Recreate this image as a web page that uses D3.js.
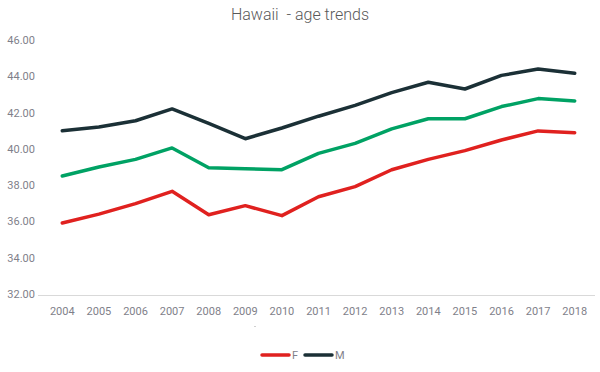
<!DOCTYPE html>
<html>
<head>
<meta charset="utf-8">
<script src="https://cdnjs.cloudflare.com/ajax/libs/d3/7.8.5/d3.min.js"></script>
<style>
  body { margin: 0; background: #fff; }
  svg { font-family: Roboto, "Open Sans", sans-serif; }
</style>
</head>
<body>
<svg id="chart" width="600" height="372"></svg>
<script>
// data
var years = ["2004","2005","2006","2007","2008","2009","2010","2011","2012","2013","2014","2015","2016","2017","2018"];
var maleAge = [41.0, 41.2, 41.55, 42.2, 41.4, 40.56, 41.15, 41.8, 42.4, 43.1, 43.67, 43.3, 44.05, 44.4, 44.17];
var totalAge = [38.5, 39.0, 39.42, 40.05, 38.96, 38.9, 38.85, 39.75, 40.3, 41.1, 41.66, 41.66, 42.33, 42.77, 42.64];
var femaleAge = [35.91, 36.4, 36.98, 37.66, 36.37, 36.87, 36.32, 37.36, 37.92, 38.85, 39.42, 39.9, 40.49, 40.99, 40.89];
var yTicks = [32, 34, 36, 38, 40, 42, 44, 46];

var series = [
  { name: "Total", values: totalAge, color: "#00a264", legend: false },
  { name: "F", values: femaleAge, color: "#e0211f", legend: true },
  { name: "M", values: maleAge, color: "#1b3036", legend: true }
];

var svg = d3.select("#chart");

var x = d3.scaleBand().domain(years).range([44, 593]);
var y = d3.scaleLinear().domain([32, 46]).range([294, 40]);

// title (keeps the double space)
svg.append("text")
  .attr("x", 300).attr("y", 20)
  .attr("text-anchor", "middle")
  .style("white-space", "pre")
  .style("font-size", "16px")
  .style("font-weight", 300)
  .style("fill", "#595959")
  .text("Hawaii  - age trends");

// y labels, no gridlines
var yAxis = d3.axisLeft(y).tickValues(yTicks).tickFormat(d3.format(".2f")).tickSize(0);
svg.append("g")
  .attr("transform", "translate(36,0)")
  .call(yAxis)
  .call(function(g){ g.select(".domain").remove(); })
  .selectAll("text")
    .attr("x", -1)
    .attr("text-anchor", "end")
    .style("font-size", "11px")
    .style("font-family", "Roboto, sans-serif")
    .style("fill", "#7f7f8a");

// x axis
var xAxis = d3.axisBottom(x).tickSize(0);
var gx = svg.append("g")
  .attr("transform", "translate(0,295)")
  .call(xAxis);
gx.select(".domain").remove();
gx.selectAll("text")
  .attr("dy", "1.5em")
  .style("font-size", "11px")
  .style("font-family", "Roboto, sans-serif")
  .style("fill", "#7f7f8a");
svg.append("line")
  .attr("x1", 38).attr("x2", 595)
  .attr("y1", 295.5).attr("y2", 295.5)
  .style("stroke", "#d9d9d9")
  .style("stroke-width", 1);

// tiny empty axis-title mark under the axis
svg.append("rect")
  .attr("x", 254).attr("y", 326).attr("width", 2).attr("height", 1)
  .style("fill", "#d0d0d0");

var line = d3.line()
  .x(function(d, i){ return x(years[i]) + x.bandwidth() / 2; })
  .y(function(d){ return y(d); });

svg.selectAll("path.series")
  .data(series)
  .enter()
  .append("path")
  .attr("class", "series")
  .attr("d", function(d){ return line(d.values); })
  .style("fill", "none")
  .style("stroke", function(d){ return d.color; })
  .style("stroke-width", 3.5)
  .style("stroke-linejoin", "round")
  .style("stroke-linecap", "round");

// legend
var legendItems = series.filter(function(d){ return d.legend; });
var lg = svg.selectAll("g.legend")
  .data(legendItems)
  .enter()
  .append("g")
  .attr("class", "legend")
  .attr("transform", function(d, i){ return "translate(" + (262 + i * 43) + ",355)"; });
lg.append("line")
  .attr("x1", 0).attr("x2", 27)
  .style("stroke", function(d){ return d.color; })
  .style("stroke-width", 3.5)
  .style("stroke-linecap", "round");
lg.append("text")
  .attr("x", 30).attr("y", 4)
  .style("font-size", "11px")
  .style("fill", "#7f7f8a")
  .text(function(d){ return d.name; });
</script>
</body>
</html>
